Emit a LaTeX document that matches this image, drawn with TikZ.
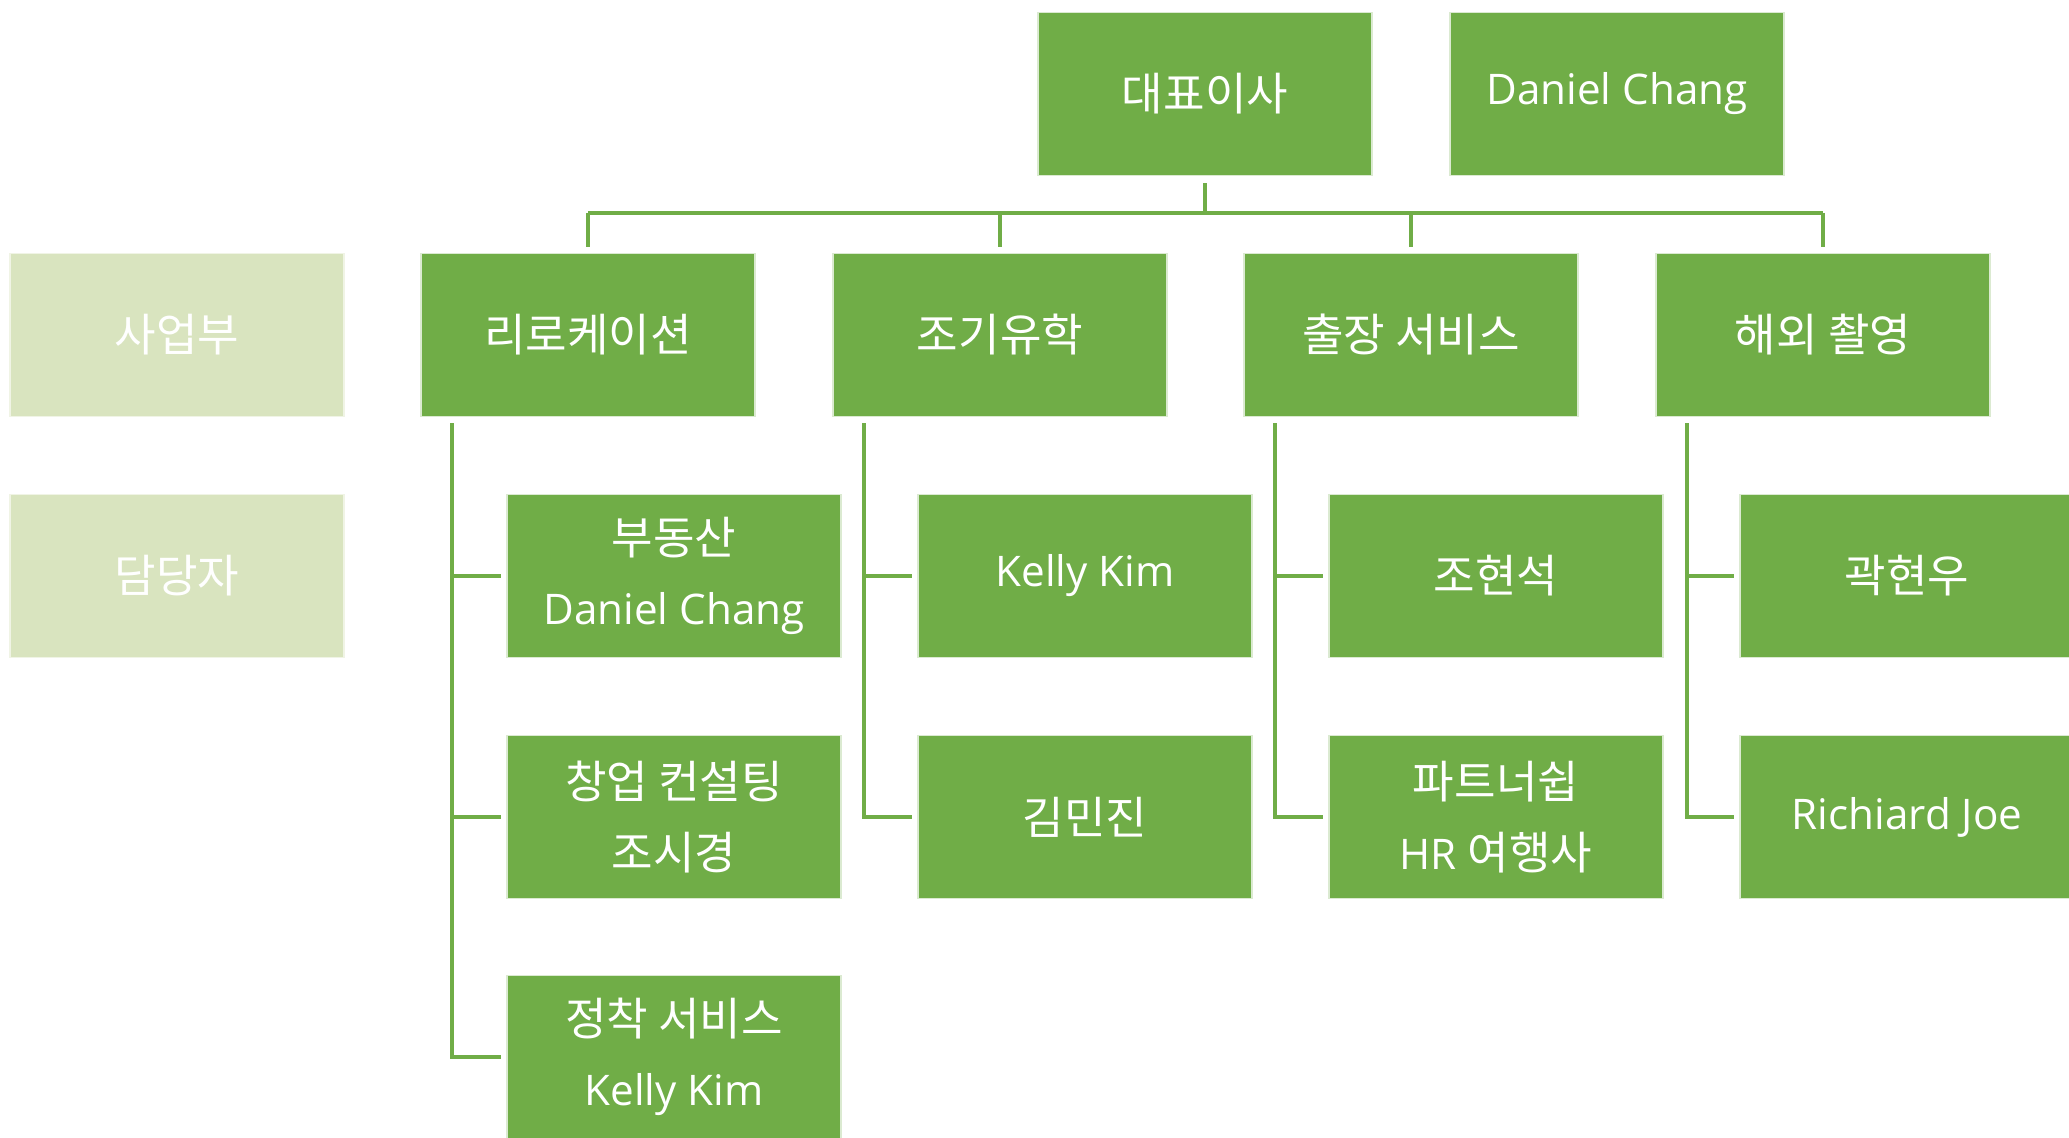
\documentclass[tikz,border=0pt]{standalone}
\usepackage{fontspec}
\setmainfont{Open Sans}
\newfontfamily\kr[Scale=1.07]{Noto Sans CJK KR}
\definecolor{orggreen}{HTML}{70AD47}
\definecolor{orglight}{HTML}{D9E4BF}

\tikzset{
  box/.style={fill=orggreen, draw=white!75!orggreen, line width=0.4pt, text=white,
    minimum width=3.34cm, minimum height=1.63cm, inner sep=0pt, align=center,
    font=\fontsize{12}{20}\selectfont},
  lightbox/.style={box, fill=orglight, draw=white!60!orglight},
  link/.style={draw=orggreen, line width=1.2pt}
}

\begin{document}
\begin{tikzpicture}
\useasboundingbox (0,0) rectangle (20.69,-11.38);
\clip (0,0) rectangle (20.69,-11.38);

% top
\node[box] (ceo) at (12.05,-0.94) {\kr 대표이사};
\node[box] (ceoname) at (16.17,-0.94) {Daniel Chang};

% row labels
\node[lightbox] (biz) at (1.77,-3.35) {\kr 사업부};
\node[lightbox] (mgr) at (1.77,-5.76) {\kr 담당자};

% divisions
\node[box] (reloc) at (5.88,-3.35) {\kr 리로케이션};
\node[box] (study) at (10.00,-3.35) {\kr 조기유학};
\node[box] (trip) at (14.11,-3.35) {\kr 출장 서비스};
\node[box] (film) at (18.23,-3.35) {\kr 해외 촬영};

% people
\node[box] (reloc1) at (6.74,-5.76) {{\kr 부동산}\\Daniel Chang};
\node[box] (reloc2) at (6.74,-8.17) {\kr 창업 컨설팅\\\kr 조시경};
\node[box] (reloc3) at (6.74,-10.57) {{\kr 정착 서비스}\\Kelly Kim};
\node[box] (study1) at (10.85,-5.76) {Kelly Kim};
\node[box] (study2) at (10.85,-8.17) {\kr 김민진};
\node[box] (trip1) at (14.96,-5.76) {\kr 조현석};
\node[box] (trip2) at (14.96,-8.17) {{\kr 파트너쉽}\\HR {\kr 여행사}};
\node[box] (film1) at (19.07,-5.76) {\kr 곽현우};
\node[box] (film2) at (19.07,-8.17) {Richiard Joe};

% top connectors
\coordinate (bus) at (12.05,-2.13);
\draw[link] ([yshift=-0.07cm]ceo.south) -- (bus);
\draw[link] (reloc.north |- bus) -- (film.north |- bus);
\foreach \d in {reloc,study,trip,film}
   {
	\draw[link] (\d.north |- bus) -- ([yshift=0.06cm]\d.north);
   };

% branches
\foreach \d/\last in {reloc/reloc3, study/study2, trip/trip2, film/film2}
   {
	\coordinate (\d top) at ([xshift=0.32cm,yshift=-0.06cm]\d.south west);
	\draw[link] (\d top) |- ([xshift=-0.05cm]\last.west);
   };
\foreach \c/\d in {reloc1/reloc, reloc2/reloc, study1/study, trip1/trip, film1/film}
   {
	\draw[link] (\d top |- \c.west) -- ([xshift=-0.05cm]\c.west);
   };
\end{tikzpicture}
\end{document}
